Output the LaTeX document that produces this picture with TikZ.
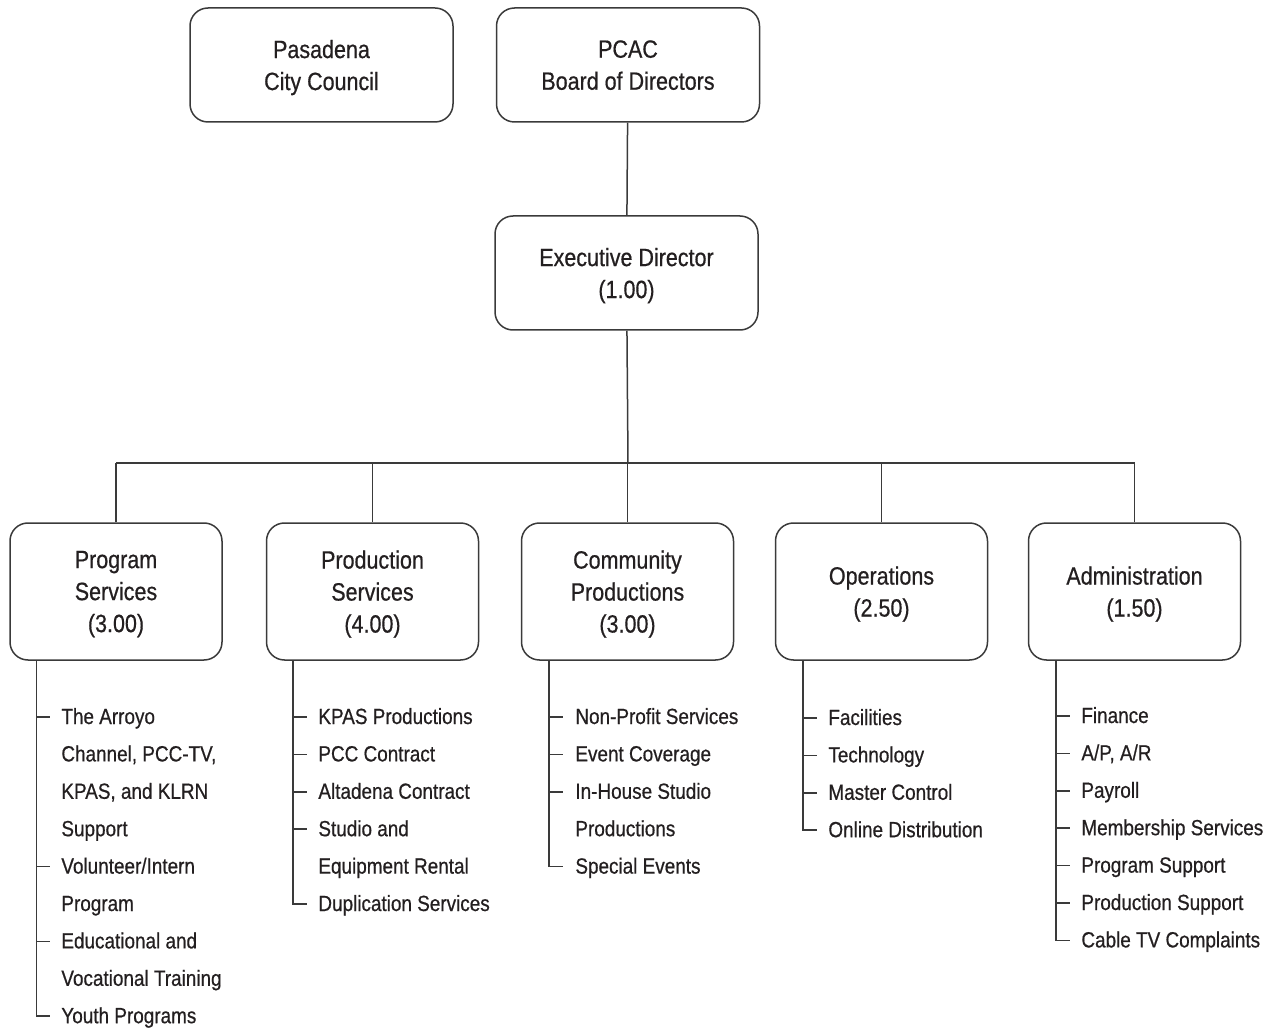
\documentclass[tikz,border=0pt]{standalone}
\usepackage{fontspec}
\setmainfont{Liberation Sans}[FakeStretch=0.86, FakeBold=0.6]
\usepackage{tikz}
\usetikzlibrary{positioning}
\definecolor{ink}{HTML}{231F20}
\definecolor{rule}{HTML}{3A3A3A}
\newcommand{\boxfont}{\fontsize{12.5}{16}\selectfont}
\newcommand{\itemfont}{\fontsize{11}{13}\selectfont}
\tikzset{
  unit/.style={draw=rule, line width=0.75pt, rounded corners=9pt, align=center,
    text=ink, font=\boxfont, minimum width=106pt, minimum height=68.5pt},
  topunit/.style={unit, minimum width=131.5pt, minimum height=57pt},
  item/.style={anchor=west, inner sep=0pt, text height=7pt, text depth=0pt,
    text=ink, font=\itemfont},
  link/.style={draw=rule, line width=0.75pt}
}
\begin{document}
\begin{tikzpicture}[x=0.5pt, y=-0.5pt]
  \useasboundingbox (0,0) rectangle (1281,1032);
  % top level
  \node [topunit, text depth=-2pt] (council) at (321.5, 65) {Pasadena\\City Council};
  \node [topunit, text depth=-2pt] (board) at (628, 65) {PCAC\\Board of Directors};
  \node [topunit, text depth=-2pt] (exec) at (626.5, 273) {Executive Director\\(1.00)};
  % departments
  \node [unit, text depth=-2pt] (prog) at (116, 591.5) {Program\\Services\\(3.00)};
  \node [unit, text depth=-2pt] (prod) at (372.5, 591.5) {Production\\Services\\(4.00)};
  \node [unit, text depth=-2pt] (comm) at (627.5, 591.5) {Community\\Productions\\(3.00)};
  \node [unit, text depth=-2pt] (ops) at (881.5, 591.5) {Operations\\(2.50)};
  \node [unit, text depth=-2pt] (adm) at (1134.5, 591.5) {Administration\\(1.50)};
  \coordinate (bus) at (628, 463);
  \draw [link] (board) -- (exec);
  \draw [link] (exec) -- (bus);
  \draw [link] (prog.north |- bus) -- (adm.north |- bus);
  \foreach \d in {prog, prod, comm, ops, adm}
    \draw [link] (\d.north) -- (\d.north |- bus);
  % program services
  \foreach \r/\t/\k in {0/The Arroyo/1, 1/{Channel, PCC-TV,}/0, 2/{KPAS, and KLRN}/0,
      3/Support/0, 4/{Volunteer/Intern}/1, 5/Program/0, 6/Educational and/1,
      7/Vocational Training/0, 8/Youth Programs/1} {
    \node [item] (prog-\r) at (61, 717+37.4*\r) {\t};
    \ifnum\k=1 \draw [link] ([xshift=-12pt]prog-\r.west) -- ([xshift=-5.5pt]prog-\r.west); \fi
  }
  \draw [link] ([xshift=13.5pt]prog.south west) |- ([xshift=-5.5pt]prog-8.west);
  % production services
  \foreach \r/\t/\k in {0/KPAS Productions/1, 1/PCC Contract/1, 2/Altadena Contract/1,
      3/Studio and/1, 4/Equipment Rental/0, 5/Duplication Services/1} {
    \node [item] (prod-\r) at (318, 717+37.4*\r) {\t};
    \ifnum\k=1 \draw [link] ([xshift=-12pt]prod-\r.west) -- ([xshift=-5.5pt]prod-\r.west); \fi
  }
  \draw [link] ([xshift=13.5pt]prod.south west) |- ([xshift=-5.5pt]prod-5.west);
  % community productions
  \foreach \r/\t/\k in {0/Non-Profit Services/1, 1/Event Coverage/1, 2/In-House Studio/1,
      3/Productions/0, 4/Special Events/1} {
    \node [item] (comm-\r) at (575, 717+37.4*\r) {\t};
    \ifnum\k=1 \draw [link] ([xshift=-12.5pt]comm-\r.west) -- ([xshift=-6pt]comm-\r.west); \fi
  }
  \draw [link] ([xshift=14pt]comm.south west) |- ([xshift=-6pt]comm-4.west);
  % operations
  \foreach \r/\t in {0/Facilities, 1/Technology, 2/Master Control, 3/Online Distribution} {
    \node [item] (ops-\r) at (828, 718+37.4*\r) {\t};
    \draw [link] ([xshift=-12pt]ops-\r.west) -- ([xshift=-5.5pt]ops-\r.west);
  }
  \draw [link] ([xshift=14pt]ops.south west) |- ([xshift=-5.5pt]ops-3.west);
  % administration
  \foreach \r/\t in {0/Finance, 1/{A/P, A/R}, 2/Payroll, 3/Membership Services,
      4/Program Support, 5/Production Support, 6/Cable TV Complaints} {
    \node [item] (adm-\r) at (1081, 716+37.4*\r) {\t};
    \draw [link] ([xshift=-12pt]adm-\r.west) -- ([xshift=-5.5pt]adm-\r.west);
  }
  \draw [link] ([xshift=14pt]adm.south west) |- ([xshift=-5.5pt]adm-6.west);
\end{tikzpicture}
\end{document}
